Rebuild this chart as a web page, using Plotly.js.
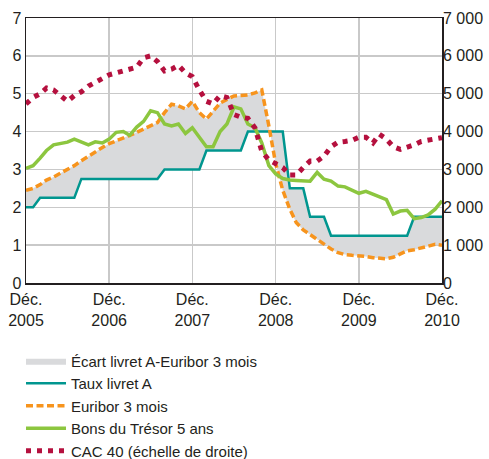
<!DOCTYPE html>
<html><head><meta charset="utf-8">
<script src="https://cdn.plot.ly/plotly-3.0.1.min.js"></script>
<style>html,body{margin:0;padding:0;background:#fff;}#chart{width:489px;height:459px;}</style>
</head><body><div id="chart"></div>
<script>
// Monthly observations, Dec 2005 .. Dec 2010 (61 months)
var startYear = 2005, startMonth = 12, nMonths = 61;
var months = [];
for (var i = 0; i < nMonths; i++) {
  var mm = startMonth - 1 + i;
  var y = startYear + Math.floor(mm / 12), m = (mm % 12) + 1;
  months.push(y + '-' + (m < 10 ? '0' : '') + m + '-01');
}

var livretA = [2.00,2.00,2.25,2.25,2.25,2.25,2.25,2.25,2.75,2.75,2.75,2.75,2.75,
               2.75,2.75,2.75,2.75,2.75,2.75,2.75,3.00,3.00,3.00,3.00,3.00,
               3.00,3.50,3.50,3.50,3.50,3.50,3.50,4.00,4.00,4.00,4.00,4.00,
               4.00,2.50,2.50,2.50,1.75,1.75,1.75,1.25,1.25,1.25,1.25,1.25,
               1.25,1.25,1.25,1.25,1.25,1.25,1.25,1.75,1.75,1.75,1.75,1.75];

var euribor3m = [2.45,2.50,2.60,2.72,2.80,2.90,3.00,3.10,3.23,3.35,3.48,3.58,3.68,
                 3.75,3.82,3.90,3.98,4.07,4.15,4.24,4.50,4.72,4.68,4.60,4.80,
                 4.50,4.33,4.55,4.75,4.85,4.94,4.95,4.97,5.02,5.10,4.15,3.15,
                 2.45,1.95,1.60,1.40,1.28,1.15,1.05,0.90,0.80,0.75,0.73,0.72,
                 0.70,0.67,0.65,0.64,0.68,0.76,0.85,0.88,0.92,0.97,1.02,1.00];

var btan5 = [3.03,3.10,3.30,3.50,3.65,3.68,3.72,3.80,3.72,3.65,3.73,3.70,3.80,
             3.98,4.00,3.90,4.12,4.27,4.55,4.50,4.20,4.15,4.20,3.95,4.10,
             3.85,3.60,3.60,4.00,4.20,4.65,4.60,4.20,4.10,3.70,3.10,2.88,
             2.76,2.72,2.71,2.70,2.69,2.92,2.74,2.69,2.56,2.54,2.45,2.37,
             2.42,2.35,2.28,2.20,1.82,1.90,1.92,1.70,1.73,1.80,1.95,2.17];

var cac40 = [4730,4900,5000,5150,5100,4950,4800,4950,5050,5200,5300,5400,5500,
             5550,5600,5620,5700,5950,6000,5850,5600,5650,5750,5550,5450,
             5100,4800,4730,4950,4900,4450,4380,4350,4100,3480,3250,3150,
             3050,2850,2850,3050,3220,3220,3350,3600,3720,3740,3770,3850,
             3850,3700,3930,3800,3600,3530,3580,3650,3740,3780,3820,3840];

var tickVals = ['2005-12-01','2006-12-01','2007-12-01','2008-12-01','2009-12-01','2010-12-01'];
var tickText = ['Déc.<br>2005','Déc.<br>2006','Déc.<br>2007','Déc.<br>2008','Déc.<br>2009','Déc.<br>2010'];
var leftTicks = [0,1,2,3,4,5,6,7];
var rightTicks = [0,1000,2000,3000,4000,5000,6000,7000];
var rightText = ['0','1 000','2 000','3 000','4 000','5 000','6 000','7 000'];

var FONT = '"Liberation Sans", Arial, sans-serif';
var TXT = '#231f20';

var traces = [
  {x: months, y: euribor3m, type: 'scatter', mode: 'lines', line: {width: 0, color: 'rgba(0,0,0,0)'},
   showlegend: false, hoverinfo: 'skip'},
  {x: months, y: livretA, type: 'scatter', mode: 'lines', fill: 'tonexty', fillcolor: '#d9dadc',
   line: {width: 0, color: 'rgba(0,0,0,0)'}, name: 'Écart livret A-Euribor 3 mois'},
  {x: months, y: livretA, type: 'scatter', mode: 'lines', line: {color: '#00968f', width: 2.5},
   name: 'Taux livret A'},
  {x: months, y: euribor3m, type: 'scatter', mode: 'lines', line: {color: '#f7941d', width: 3.5, dash: '7px,3.5px'},
   name: 'Euribor 3 mois'},
  {x: months, y: btan5, type: 'scatter', mode: 'lines', line: {color: '#8cc63f', width: 3.5},
   name: 'Bons du Trésor 5 ans'},
  {x: months, y: cac40, type: 'scatter', mode: 'lines', yaxis: 'y2', line: {color: '#b5103e', width: 5, dash: '5px,6px'},
   name: 'CAC 40 (échelle de droite)'}
];

var layout = {
  width: 489, height: 459,
  margin: {l: 26, r: 47, t: 18, b: 176, autoexpand: false},
  paper_bgcolor: '#fff', plot_bgcolor: '#fff',
  font: {family: FONT, size: 16, color: TXT},
  showlegend: true,
  legend: {x: -0.012, y: -0.232, xanchor: 'left', yanchor: 'top', itemwidth: 40,
           font: {family: FONT, size: 15, color: TXT}, traceorder: 'normal', bgcolor: 'rgba(0,0,0,0)'},
  xaxis: {type: 'date', range: ['2005-12-01', '2010-12-01'], tickvals: tickVals, ticktext: tickText,
          tickangle: 0, automargin: false, ticklabelstandoff: 1,
          showgrid: true, gridcolor: '#c9c9c9', gridwidth: 1.5, zeroline: false,
          showline: true, linecolor: TXT, linewidth: 1.5, mirror: true, ticks: '',
          tickfont: {family: FONT, size: 16, color: TXT}},
  yaxis: {range: [0, 7], tickvals: leftTicks, showgrid: true, gridcolor: '#c9c9c9', gridwidth: 1.5,
          automargin: false, zeroline: false, showline: true, linecolor: TXT, linewidth: 1.5, mirror: true, ticks: '',
          tickfont: {family: FONT, size: 16, color: TXT}},
  yaxis2: {range: [0, 7000], overlaying: 'y', side: 'right', tickvals: rightTicks, ticktext: rightText,
           automargin: false, showgrid: false, zeroline: false, showline: false, ticks: '',
           tickfont: {family: FONT, size: 16, color: TXT}}
};

Plotly.newPlot('chart', traces, layout, {staticPlot: true, displayModeBar: false});
</script></body></html>
